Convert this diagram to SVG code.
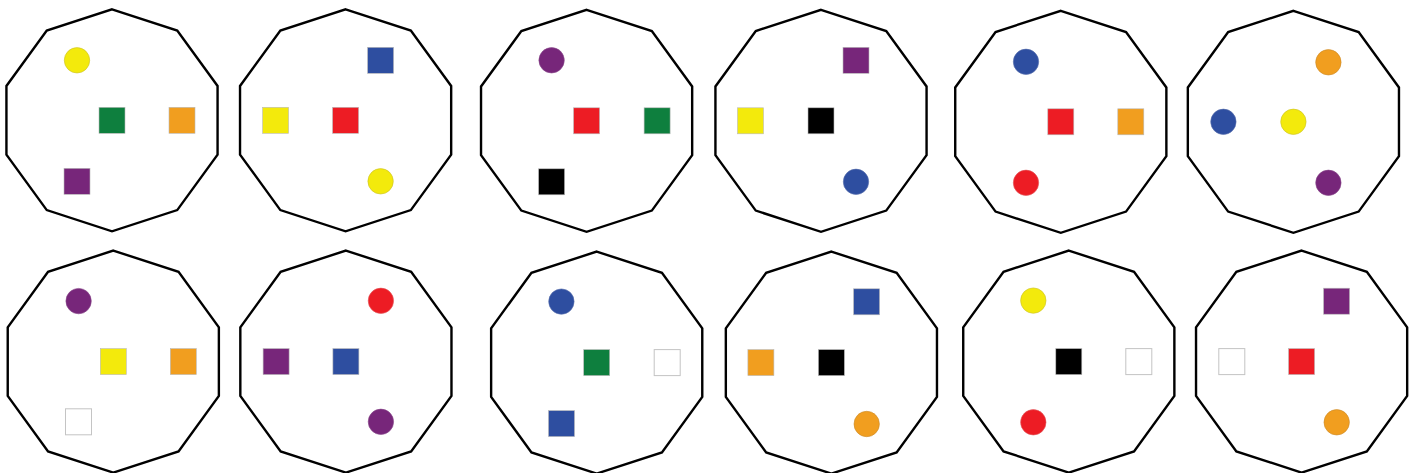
<svg xmlns="http://www.w3.org/2000/svg" width="1415" height="473" viewBox="0 0 1415 473">
<style>
.dec{fill:#fff;stroke:#000;stroke-width:2.4;stroke-linejoin:miter}
.s{stroke:#b9b9b9;stroke-width:0.6}
.c{stroke-width:0.6}
.yel{fill:#f3ea0c}.yc{stroke:#c9bf2a}
.grn{fill:#0e7f3e}
.org{fill:#f19e1f}.oc{stroke:#c98a2a}
.pur{fill:#77267a}.pc{stroke:#8a4a8c}
.red{fill:#ed1c24}.rc{stroke:#e05a5e}
.blu{fill:#2e4ea0}.bc{stroke:#5a70ac}
.blk{fill:#000}
.wht{fill:#fff;stroke:#c4c4c4;stroke-width:1}
</style>
<defs>
<polygon id="decagon" class="dec" points="0,-111 65.24,-89.8 105.57,-34.3 105.57,34.3 65.24,89.8 0,111 -65.24,89.8 -105.57,34.3 -105.57,-34.3 -65.24,-89.8"/>
</defs>
<rect width="1415" height="473" fill="#fff"/>
<g id="d1" transform="translate(112,120.3)">
<use href="#decagon"/>
<circle class="yel c yc" cx="-35" cy="-60" r="12.7"/>
<rect class="grn s" x="-13" y="-13" width="26" height="26"/>
<rect class="org s" x="57" y="-13" width="26" height="26"/>
<rect class="pur s" x="-48" y="48" width="26" height="26"/>
</g>
<g id="d2" transform="translate(345.6,120.3)">
<use href="#decagon"/>
<rect class="blu s" x="22" y="-73" width="26" height="26"/>
<rect class="red s" x="-13" y="-13" width="26" height="26"/>
<rect class="yel s" x="-83" y="-13" width="26" height="26"/>
<circle class="yel c yc" cx="35" cy="61" r="12.7"/>
</g>
<g id="d3" transform="translate(586.6,120.8)">
<use href="#decagon"/>
<circle class="pur c pc" cx="-35" cy="-60.5" r="12.7"/>
<rect class="red s" x="-13" y="-13" width="26" height="26"/>
<rect class="grn s" x="57.5" y="-13" width="26" height="26"/>
<rect class="blk s" x="-48" y="48" width="26" height="26"/>
</g>
<g id="d4" transform="translate(821,120.8)">
<use href="#decagon"/>
<rect class="pur s" x="22" y="-73.5" width="26" height="26"/>
<rect class="blk s" x="-13" y="-13" width="26" height="26"/>
<rect class="yel s" x="-83.5" y="-13" width="26" height="26"/>
<circle class="blu c bc" cx="35" cy="61" r="12.7"/>
</g>
<g id="d5" transform="translate(1060.8,121.8)">
<use href="#decagon"/>
<circle class="blu c bc" cx="-34.8" cy="-60" r="12.7"/>
<rect class="red s" x="-13" y="-13" width="26" height="26"/>
<rect class="org s" x="57" y="-13" width="26" height="26"/>
<circle class="red c rc" cx="-34.8" cy="61" r="12.7"/>
</g>
<g id="d6" transform="translate(1293.4,121.8)">
<use href="#decagon"/>
<circle class="org c oc" cx="35" cy="-59.5" r="12.7"/>
<circle class="yel c yc" cx="0" cy="0" r="12.7"/>
<circle class="blu c bc" cx="-70" cy="0" r="12.7"/>
<circle class="pur c pc" cx="35" cy="61" r="12.7"/>
</g>
<g id="d7" transform="translate(113.3,361.6)">
<use href="#decagon"/>
<circle class="pur c pc" cx="-34.7" cy="-60.5" r="12.7"/>
<rect class="yel s" x="-13" y="-13" width="26" height="26"/>
<rect class="org s" x="57" y="-13" width="26" height="26"/>
<rect class="wht" x="-47.8" y="47.2" width="26" height="26"/>
</g>
<g id="d8" transform="translate(345.9,361.6)">
<use href="#decagon"/>
<circle class="red c rc" cx="35" cy="-60.8" r="12.7"/>
<rect class="blu s" x="-13" y="-13" width="26" height="26"/>
<rect class="pur s" x="-82.8" y="-13" width="26" height="26"/>
<circle class="pur c pc" cx="35" cy="60.2" r="12.7"/>
</g>
<g id="d9" transform="translate(596.7,362.6)">
<use href="#decagon"/>
<circle class="blu c bc" cx="-35.3" cy="-61" r="12.7"/>
<rect class="grn s" x="-13" y="-13" width="26" height="26"/>
<rect class="wht" x="57.5" y="-13" width="26" height="26"/>
<rect class="blu s" x="-48.2" y="48" width="26" height="26"/>
</g>
<g id="d10" transform="translate(831.4,362.6)">
<use href="#decagon"/>
<rect class="blu s" x="22.2" y="-73.8" width="26" height="26"/>
<rect class="blk s" x="-13" y="-13" width="26" height="26"/>
<rect class="org s" x="-83.5" y="-13" width="26" height="26"/>
<circle class="org c oc" cx="35.3" cy="61.4" r="12.7"/>
</g>
<g id="d11" transform="translate(1068.8,361.6)">
<use href="#decagon"/>
<circle class="yel c yc" cx="-35.5" cy="-61" r="12.7"/>
<rect class="blk s" x="-13" y="-13" width="26" height="26"/>
<rect class="wht" x="57" y="-13" width="26" height="26"/>
<circle class="red c rc" cx="-35.5" cy="60.7" r="12.7"/>
</g>
<g id="d12" transform="translate(1301.6,361.6)">
<use href="#decagon"/>
<rect class="pur s" x="22" y="-73.4" width="26" height="26"/>
<rect class="red s" x="-13" y="-13" width="26" height="26"/>
<rect class="wht" x="-82.8" y="-13" width="26" height="26"/>
<circle class="org c oc" cx="35.1" cy="60.7" r="12.7"/>
</g>
<g id="connectors"></g>
</svg>
